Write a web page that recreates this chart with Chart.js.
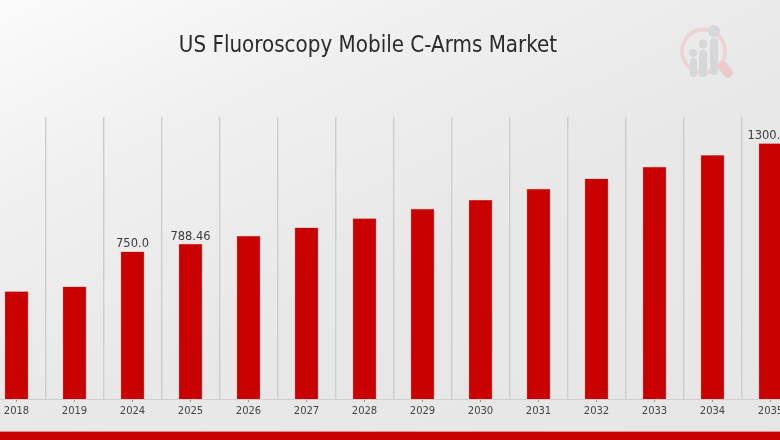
<!DOCTYPE html>
<html>
<head>
<meta charset="utf-8">
<script src="https://cdn.jsdelivr.net/npm/chart.js@4"></script>
<style>
  html, body { margin: 0; padding: 0; }
  body { width: 780px; height: 440px; overflow: hidden; position: relative;
         background: linear-gradient(155deg, #fbfbfb 0%, #f0f0f0 25%, #e8e8e8 55%, #e6e6e6 100%); }
  #myChart { position: absolute; left: -100px; top: 0; filter: blur(0.4px); }
  #logo { position: absolute; left: 675px; top: 20px; filter: blur(0.4px); }
  #strip { position: absolute; left: 0; top: 431px; width: 780px; height: 9px; background: #c80000; border-top: 1px solid #e58a8a; box-sizing: border-box; }
</style>
</head>
<body>
<svg id="logo" width="64" height="64" viewBox="0 0 64 64">
  <circle cx="28.5" cy="31" r="21.5" fill="none" stroke="#ecd3d5" stroke-width="4"/>
  <line x1="48" y1="46" x2="53" y2="53" stroke="#eccbce" stroke-width="10" stroke-linecap="round"/>
  <g fill="#d6d7d9">
    <circle cx="18" cy="33" r="4"/><rect x="15" y="38" width="7" height="19" rx="3"/>
    <circle cx="28" cy="24" r="4.5"/><rect x="24" y="30" width="8" height="27" rx="3.5"/>
    <circle cx="39" cy="11" r="6"/><rect x="35" y="18" width="8" height="37" rx="3.5"/>
  </g>
</svg>
<canvas id="myChart" width="936" height="440"></canvas>
<div id="strip"></div>
<script>
const categories = ['2018', '2019', '2024', '2025', '2026', '2027', '2028', '2029', '2030', '2031', '2032', '2033', '2034', '2035'];
const marketValues = [547, 572, 750, 788.46, 830, 871, 918, 967, 1013, 1068, 1121, 1180, 1240, 1300];
const valueLabels = ['', '', '750.0', '788.46', '', '', '', '', '', '', '', '', '', '1300.0'];
const chartTitle = 'US Fluoroscopy Mobile C-Arms Market';

// value labels over the bars and the squeezed title
const textPlugin = {
  id: 'textPlugin',
  afterDatasetsDraw(chart) {
    const ctx = chart.ctx;
    const bars = chart.getDatasetMeta(0).data;
    bars.forEach((bar, i) => {
      if (!valueLabels[i]) return;
      // last label sits a little left in the original
      const nudge = i === bars.length - 1 ? -3 : 0;
      ctx.save();
      ctx.translate(bar.x + nudge, bar.y - 1);
      ctx.scale(0.92, 1);
      ctx.fillStyle = '#3c3c3c';
      ctx.font = '12.5px "DejaVu Sans"';
      ctx.textAlign = 'center';
      ctx.textBaseline = 'bottom';
      ctx.fillText(valueLabels[i], 0, 0);
      ctx.restore();
    });

    ctx.save();
    ctx.translate(468, 52);
    ctx.scale(0.867, 1);
    ctx.fillStyle = '#2a2a2a';
    ctx.font = '23px "DejaVu Sans"';
    ctx.textAlign = 'center';
    ctx.textBaseline = 'alphabetic';
    ctx.fillText(chartTitle, 0, 0);
    ctx.restore();
  }
};

new Chart(document.getElementById('myChart').getContext('2d'), {
  type: 'bar',
  data: {
    labels: categories,
    datasets: [{
      data: marketValues,
      backgroundColor: '#c80000',
      borderColor: '#dc6a6a',
      borderWidth: 0.5,
      barPercentage: 0.41,
      categoryPercentage: 1,
      xAxisID: 'x',
      yAxisID: 'y'
    }]
  },
  options: {
    responsive: false,
    animation: false,
    layout: { padding: { left: 87.5, right: 36.5, top: 117, bottom: 20 } },
    plugins: { legend: { display: false }, tooltip: { enabled: false } },
    scales: {
      x: {
        offset: true,
        grid: { offset: false, drawOnChartArea: false, drawTicks: true, tickLength: 3, tickColor: '#999', tickWidth: 1 },
        border: { display: true, color: '#cfcfcf' },
        ticks: { color: '#444', font: { family: 'DejaVu Sans', size: 10 }, padding: 3, maxRotation: 0, autoSkip: false }
      },
      x2: {
        type: 'category',
        labels: categories,
        position: 'bottom',
        offset: true,
        grid: { offset: true, color: '#cecece', lineWidth: 1.4, drawTicks: false },
        border: { display: false },
        ticks: { display: false }
      },
      y: { display: false, min: 0, max: 1433 }
    }
  },
  plugins: [textPlugin]
});
</script>
</body>
</html>
